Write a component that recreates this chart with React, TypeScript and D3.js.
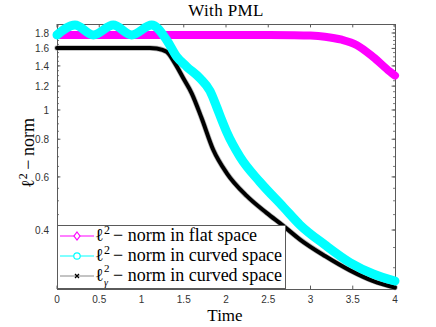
import React from "react";
import * as d3 from "d3";

// ---- data ----
const tFlat = [0, 0.5, 1, 1.5, 2, 2.5, 2.8, 3.0, 3.17, 3.37, 3.55, 3.74, 3.94, 4.0];
const normFlat = [1.772, 1.772, 1.772, 1.772, 1.772, 1.772, 1.77, 1.765, 1.75, 1.71, 1.64, 1.5, 1.34, 1.3];

const tCurved = [0, 0.213, 0.43, 0.666, 0.884, 1.121, 1.298, 1.417, 1.535, 1.692, 1.811, 1.89, 1.949, 2.008, 2.166, 2.402, 2.678, 2.876, 3.172, 3.467, 3.743, 4.0];
const normCurved = [1.773, 1.913, 1.773, 1.913, 1.773, 1.913, 1.706, 1.502, 1.392, 1.274, 1.156, 1.023, 0.927, 0.845, 0.699, 0.577, 0.477, 0.416, 0.357, 0.312, 0.286, 0.271];

const tGamma = [0, 1.1, 1.18, 1.298, 1.396, 1.495, 1.594, 1.712, 1.85, 2.008, 2.245, 2.48, 2.678, 2.876, 3.172, 3.467, 3.743, 4.0];
const normGamma = [1.605, 1.605, 1.599, 1.56, 1.428, 1.274, 1.136, 0.939, 0.737, 0.618, 0.519, 0.456, 0.413, 0.372, 0.328, 0.294, 0.271, 0.258];

const xTicks = [0, 0.5, 1, 1.5, 2, 2.5, 3, 3.5, 4];
const xTickLabels = ["0", "0.5", "1", "1.5", "2", "2.5", "3", "3.5", "4"];
const yTicks = [0.4, 0.6, 0.8, 1, 1.2, 1.4, 1.6, 1.8];
const yTickLabels = ["0.4", "0.6", "0.8", "1", "1.2", "1.4", "1.6", "1.8"];
const yMinorTicks = [0.3, 0.35, 0.4, 0.45, 0.5, 0.55, 0.6, 0.65, 0.7, 0.75, 0.8, 0.85, 0.9, 0.95, 1, 1.05, 1.1, 1.15, 1.2, 1.25, 1.3, 1.35, 1.4, 1.45, 1.5, 1.55, 1.6, 1.65, 1.7, 1.75, 1.8, 1.85, 1.9];

const legendLabels = ["− norm in flat space", "− norm in curved space", "− norm in curved space"];

const W = 436;
const H = 327;
const L = 57, R = 395, T = 24, B = 289;
const axisColor = "#5a5a5a";
const serif = "'Liberation Serif', 'DejaVu Serif', serif";
const sans = "'Liberation Sans', Arial, sans-serif";

export default function App() {
  const x = d3.scaleLinear().domain([0, 4]).range([L, R]);
  const y = d3.scaleLog().domain([0.255, 1.928]).range([B, T]);
  const mk = (ts: number[], vs: number[]) =>
    d3.line<number>().x((_, i) => x(ts[i])).y((d) => y(d)).curve(d3.curveMonotoneX)(vs) || "";

  const pFlat = mk(tFlat, normFlat);
  const pCurved = mk(tCurved, normCurved);
  const pGamma = mk(tGamma, normGamma);

  const tickLen = 3.4;
  const minorLen = 2;

  const legRows = [236, 256, 276];

  return (
    <svg width={W} height={H} style={{ position: "fixed", left: 0, top: 0, background: "#fff" }}>
      <rect x={0} y={0} width={W} height={H} fill="#fff" />
      {/* title */}
      <text x={226} y={16} textAnchor="middle" fontFamily={serif} fontSize={17} letterSpacing={0.4} fill="#000">
        With PML
      </text>

      {/* axes box */}
      <rect x={L + 0.5} y={T + 0.5} width={R - L} height={B - T} fill="none" stroke={axisColor} strokeWidth={1} />

      {/* x ticks */}
      {xTicks.map((t, i) => (
        <g key={"xt" + i}>
          <line x1={x(t)} x2={x(t)} y1={B} y2={B - tickLen} stroke={axisColor} />
          <line x1={x(t)} x2={x(t)} y1={T} y2={T + tickLen} stroke={axisColor} />
          <text x={x(t)} y={303} textAnchor="middle" fontFamily={sans} fontSize={10} fill="#333">
            {xTickLabels[i]}
          </text>
        </g>
      ))}

      {/* y minor ticks */}
      {yMinorTicks.map((v, i) => (
        <g key={"ym" + i}>
          <line x1={L} x2={L + minorLen} y1={y(v)} y2={y(v)} stroke={axisColor} strokeWidth={0.8} />
          <line x1={R} x2={R - minorLen} y1={y(v)} y2={y(v)} stroke={axisColor} strokeWidth={0.8} />
        </g>
      ))}
      {/* y major ticks */}
      {yTicks.map((v, i) => (
        <g key={"yt" + i}>
          <line x1={L} x2={L + tickLen} y1={y(v)} y2={y(v)} stroke={axisColor} />
          <line x1={R} x2={R - tickLen} y1={y(v)} y2={y(v)} stroke={axisColor} />
          <text x={49} y={y(v) + 3.6} textAnchor="end" fontFamily={sans} fontSize={10} fill="#333">
            {yTickLabels[i]}
          </text>
        </g>
      ))}

      {/* series */}
      <path d={pFlat} fill="none" stroke="#ff00ff" strokeWidth={8} strokeLinecap="round" strokeLinejoin="round" />
      <path d={pGamma} fill="none" stroke="#888" strokeOpacity={0.6} strokeWidth={5.5} strokeLinecap="round" strokeLinejoin="round" />
      <path d={pGamma} fill="none" stroke="#000" strokeWidth={4} strokeLinecap="round" strokeLinejoin="round" />
      <path d={pCurved} fill="none" stroke="#00ffff" strokeWidth={9} strokeLinecap="round" strokeLinejoin="round" />

      {/* axis labels */}
      <text x={225} y={321} textAnchor="middle" fontFamily={serif} fontSize={17} fill="#000">
        Time
      </text>
      <g transform="translate(34,153) rotate(-90)">
        <text x={0} y={0} textAnchor="middle" fontFamily={serif} fontSize={18} fill="#000">
          <tspan>ℓ</tspan>
          <tspan fontSize={12} dy={-7}>2</tspan>
          <tspan dy={7}>{"\u2009−\u2009norm"}</tspan>
        </text>
      </g>

      {/* legend */}
      <rect x={57.5} y={225.5} width={228} height={63} fill="#fff" stroke={axisColor} strokeWidth={1} />
      <line x1={60} x2={94} y1={legRows[0]} y2={legRows[0]} stroke="#ff00ff" strokeWidth={1} />
      <path d={`M77,${legRows[0] - 4}L80,${legRows[0]}L77,${legRows[0] + 4}L74,${legRows[0]}Z`} fill="#fff" stroke="#ff00ff" strokeWidth={1.2} />
      <line x1={60} x2={94} y1={legRows[1]} y2={legRows[1]} stroke="#00ffff" strokeWidth={1} />
      <circle cx={77} cy={legRows[1]} r={3.2} fill="#fff" stroke="#00ffff" strokeWidth={1.2} />
      <line x1={60} x2={94} y1={legRows[2]} y2={legRows[2]} stroke="#888" strokeWidth={1} />
      <path d={`M75,${legRows[2] - 2}L79,${legRows[2] + 2}M75,${legRows[2] + 2}L79,${legRows[2] - 2}`} stroke="#000" strokeWidth={1.3} />

      {legendLabels.map((lab, r) => (
        <g key={"lg" + r}>
          <text x={95} y={legRows[r] + 5} fontFamily={serif} fontSize={18} fill="#000">
            ℓ
          </text>
          <text x={104} y={legRows[r] - (r === 2 ? 4 : 2)} fontFamily={serif} fontSize={r === 2 ? 11 : 12} fill="#000">
            2
          </text>
          {r === 2 && (
            <text x={104} y={legRows[r] + 10} fontFamily={serif} fontSize={10} fontStyle="italic" fill="#000">
              γ
            </text>
          )}
          <text x={113} y={legRows[r] + 5} fontFamily={serif} fontSize={18} fill="#000">
            {lab}
          </text>
        </g>
      ))}
    </svg>
  );
}
